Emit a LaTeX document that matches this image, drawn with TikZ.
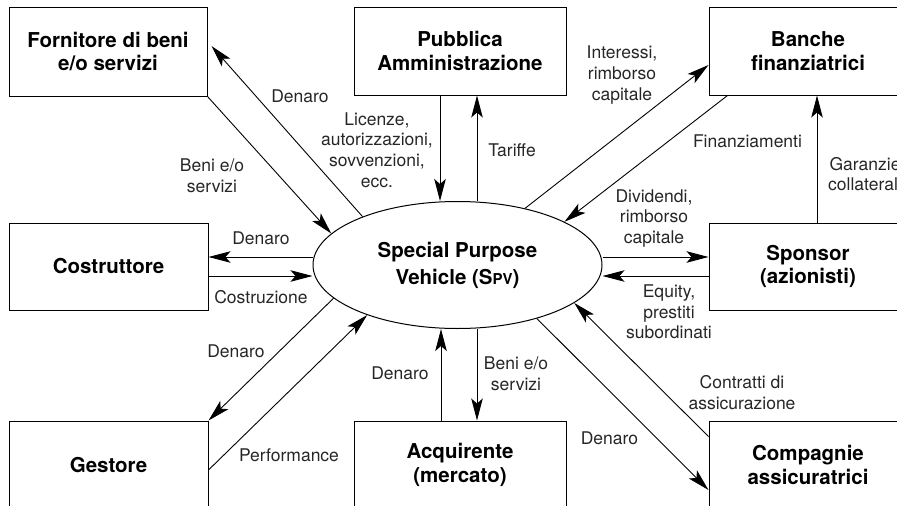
\documentclass[tikz,border=0pt]{standalone}
\usepackage{fontspec}
\setmainfont{TeX Gyre Heros}
\usetikzlibrary{arrows.meta,shapes.geometric}
\begin{document}
\begin{tikzpicture}[x=1pt,y=-1pt,
  party/.style={draw,line width=1pt,rectangle,inner sep=0pt,align=center,
    font=\bfseries\fontsize{20.5}{23.3}\selectfont},
  flow/.style={line width=0.9pt,-{Stealth[length=22pt,width=11.5pt,inset=5pt]}},
  lbl/.style={align=center,inner sep=0pt,text=black!85,
    font=\fontsize{17.5}{20.7}\selectfont}]
\useasboundingbox (0,0) rectangle (897,506);
\clip (0,0) rectangle (897,506);

% parties
\node[party,minimum width=198pt,minimum height=89pt] (forn) at (108,51.5) {Fornitore di beni\\e/o servizi};
\node[party,minimum width=212pt,minimum height=88pt] (pa) at (460,51) {Pubblica\\Amministrazione};
\node[party,minimum width=198pt,minimum height=88pt] (banche) at (808,51) {Banche\\finanziatrici};
\node[party,minimum width=199pt,minimum height=87pt] (costr) at (108.5,266.5) {Costruttore};
\node[party,minimum width=198pt,minimum height=87pt] (sponsor) at (808,266.5) {Sponsor\\(azionisti)};
\node[party,minimum width=199pt,minimum height=88pt] (gest) at (108.5,465) {Gestore};
\node[party,minimum width=212pt,minimum height=88pt] (acq) at (460,465) {Acquirente\\(mercato)};
\node[party,minimum width=198pt,minimum height=88pt] (comp) at (808,465) {Compagnie\\assicuratrici};

% central vehicle
\node[draw,ellipse,line width=1pt,inner sep=0pt,minimum width=289pt,minimum height=127pt,
  align=center,font=\bfseries\fontsize{20.5}{27}\selectfont] (spv) at (457.5,265)
  {Special Purpose\\Vehicle (S{\fontsize{15}{15}\selectfont PV})};

% supplier
\draw[flow] (spv.153) -- ([xshift=4pt,yshift=5.5pt]forn.east);
\draw[flow] (forn.south east) -- (spv.166);

% public administration
\coordinate (pa1) at ([xshift=-20pt]pa.south);
\coordinate (pa2) at ([xshift=17pt]pa.south);
\draw[flow] (pa1) -- (pa1 |- spv.north);
\draw[flow] (pa2 |- spv.north) -- (pa2);

% banks
\draw[flow] (spv.40) -- ([yshift=-14pt]banche.west);
\draw[flow] ([xshift=19pt]banche.south west) -- (spv.22);
\draw[flow] ([xshift=9pt]sponsor.north) -- ([xshift=9pt]banche.south);

% sponsor
\coordinate (sp1) at ([yshift=9.5pt]sponsor.west);
\coordinate (sp2) at ([yshift=-9.5pt]sponsor.west);
\draw[flow] (sp1 -| spv.east) -- (sp1);
\draw[flow] (sp2) -- (sp2 -| spv.east);

% builder
\coordinate (co1) at ([yshift=9.5pt]costr.east);
\coordinate (co2) at ([yshift=-9.5pt]costr.east);
\draw[flow] (co1 -| spv.west) -- (co1);
\draw[flow] (co2) -- (co2 -| spv.west);

% operator
\draw[flow] (spv.195) -- (gest.north east);
\draw[flow] ([yshift=-5pt]gest.east) -- (spv.209);

% buyer
\coordinate (ac1) at ([xshift=-19pt]acq.north);
\coordinate (ac2) at ([xshift=17pt]acq.north);
\draw[flow] (ac1) -- (ac1 |- spv.south);
\draw[flow] (ac2 |- spv.south) -- (ac2);

% insurers
\draw[flow] (spv.326) -- ([yshift=-25pt]comp.west);
\draw[flow] ([yshift=-16pt]comp.north west) -- (spv.342);

% flow labels
\node[lbl] (l1) at (300,96) {Denaro};
\node[lbl] (l2) at (212,176) {Beni e/o\\servizi};
\node[lbl] (l3) at (377,150) {Licenze,\\autorizzazioni,\\sovvenzioni,\\ecc.};
\node[lbl] (l4) at (512,150) {Tariffe};
\node[lbl] (l5) at (622,75) {Interessi,\\rimborso\\capitale};
\node[lbl] (l6) at (747.5,141) {Finanziamenti};
\node[lbl] (l7) at (865,174) {Garanzie\\collaterali};
\node[lbl] (l8) at (654,218.5) {Dividendi,\\rimborso\\capitale};
\node[lbl] (l9) at (669,312) {Equity,\\prestiti\\subordinati};
\node[lbl] (l10) at (261,238) {Denaro};
\node[lbl] (l11) at (261,297) {Costruzione};
\node[lbl] (l12) at (236,351) {Denaro};
\node[lbl] (l13) at (289,455) {Performance};
\node[lbl] (l14) at (400,373) {Denaro};
\node[lbl] (l15) at (516,373.5) {Beni e/o\\servizi};
\node[lbl] (l16) at (742,392.5) {Contratti di\\assicurazione};
\node[lbl] (l17) at (609.5,438) {Denaro};
\end{tikzpicture}
\end{document}
